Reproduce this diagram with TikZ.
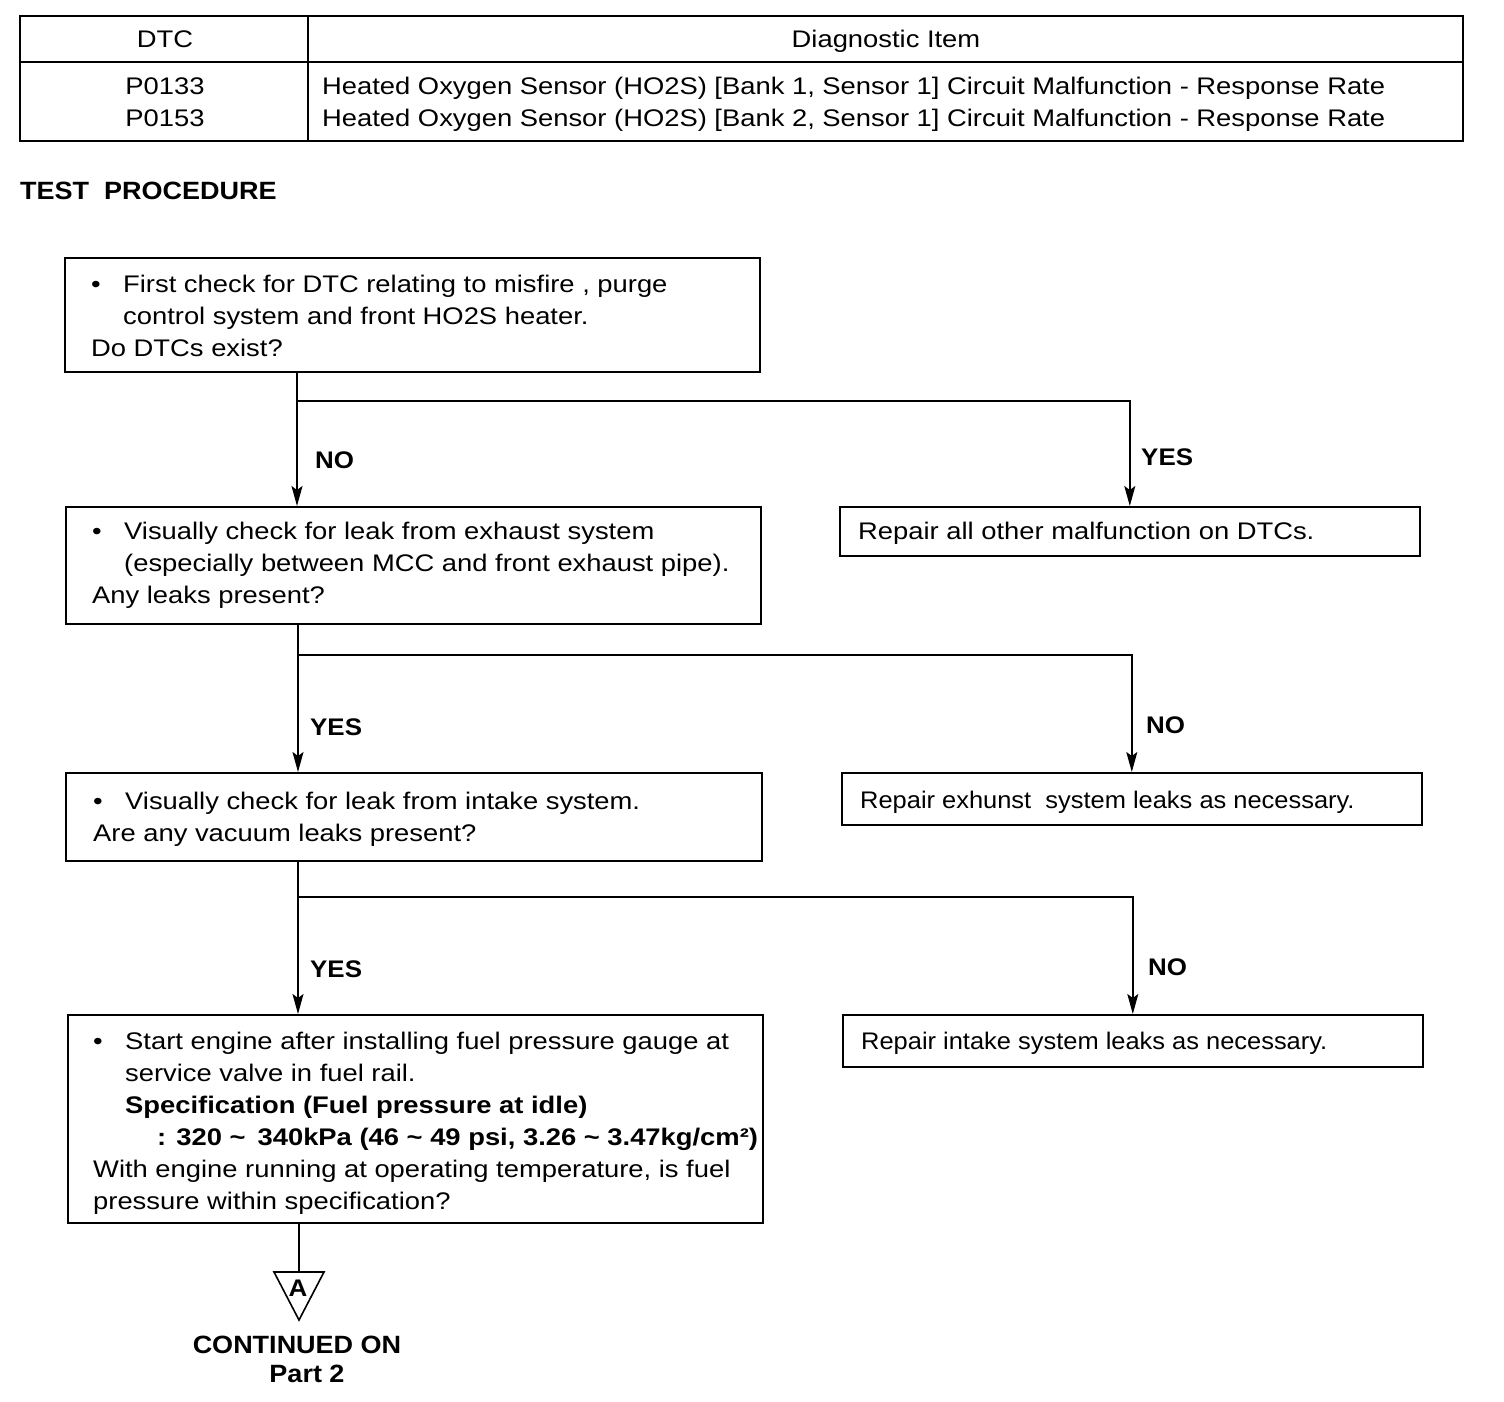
\documentclass[tikz,border=0pt]{standalone}
\usepackage{fontspec}
\setmainfont[FakeStretch=1.14]{Liberation Sans}
\newfontfamily\lblfont[FakeStretch=1.08]{Liberation Sans}
\newfontfamily\narrowfont[FakeStretch=1.06]{Liberation Sans}
\usetikzlibrary{arrows.meta}
\begin{document}
\begin{tikzpicture}[x=1pt,y=-1pt,
  box/.style={draw,line width=1.6pt,anchor=north west,inner sep=0pt},
  txt/.style={anchor=base west,inner sep=0pt,font=\fontsize{24}{28}\selectfont},
  ntxt/.style={txt,font=\narrowfont\fontsize{24}{28}\selectfont},
  ctxt/.style={txt,anchor=base},
  btxt/.style={txt,font=\fontsize{24}{28}\selectfont\bfseries},
  lbl/.style={anchor=base west,inner sep=0pt,font=\lblfont\fontsize{24}{28}\selectfont\bfseries},
  conn/.style={line width=1.6pt},
  arr/.style={conn,-{Stealth[length=20pt,width=11pt,inset=4pt]}}]
\useasboundingbox (0,0) rectangle (1504,1402);
% table
\node[box,minimum width=1443,minimum height=125] (tab) at (19,15) {};
\coordinate (hsep) at (19,62);
\coordinate (vsep) at (308,15);
\draw[conn] (hsep) -- (hsep -| tab.east);
\draw[conn] (vsep) -- (vsep |- tab.south);
\node[ctxt] (h1) at (165,48) {DTC};
\node[ctxt] (h2) at (886,48) {Diagnostic Item};
\node[ctxt] (c1) at (165,95) {P0133};
\node[ctxt] (c2) at (165,127) {P0153};
\node[txt] (d1) at (322,95) {Heated Oxygen Sensor (HO2S) [Bank 1, Sensor 1] Circuit Malfunction - Response Rate};
\node[txt] (d2) at (322,127) {Heated Oxygen Sensor (HO2S) [Bank 2, Sensor 1] Circuit Malfunction - Response Rate};
\node[lbl,font=\lblfont\fontsize{25}{28}\selectfont\bfseries] (tp) at (20,199) {TEST\ \ PROCEDURE};
% boxes
\node[box,minimum width=695,minimum height=114] (b1) at (64,257) {};
\node[box,minimum width=695,minimum height=117] (b2) at (65,506) {};
\node[box,minimum width=696,minimum height=88] (b3) at (65,772) {};
\node[box,minimum width=695,minimum height=208] (b4) at (67,1014) {};
\node[box,minimum width=580,minimum height=49] (r1) at (839,506) {};
\node[box,minimum width=580,minimum height=52] (r2) at (841,772) {};
\node[box,minimum width=580,minimum height=52] (r3) at (842,1014) {};
% box 1 text
\node[txt] (b1a) at (91,292) {\makebox[32pt][l]{\textbullet}First check for DTC relating to misfire , purge};
\node[txt] (b1b) at (123,324) {control system and front HO2S heater.};
\node[txt] (b1c) at (91,356) {Do DTCs exist?};
% box 2 text
\node[txt] (b2a) at (92,539) {\makebox[32pt][l]{\textbullet}Visually check for leak from exhaust system};
\node[txt] (b2b) at (124,571) {(especially between MCC and front exhaust pipe).};
\node[txt] (b2c) at (92,603) {Any leaks present?};
% box 3 text
\node[txt] (b3a) at (93,809) {\makebox[32pt][l]{\textbullet}Visually check for leak from intake system.};
\node[txt] (b3b) at (93,841) {Are any vacuum leaks present?};
% box 4 text
\node[txt] (b4a) at (93,1049) {\makebox[32pt][l]{\textbullet}Start engine after installing fuel pressure gauge at};
\node[txt] (b4b) at (125,1081) {service valve in fuel rail.};
\node[btxt] (b4c) at (125,1113) {Specification (Fuel pressure at idle)};
\node[btxt] (b4d) at (157,1145) {: 320 \textasciitilde\hspace{12pt}340kPa (46 \textasciitilde\ 49 psi, 3.26 \textasciitilde\ 3.47kg/cm²)};
\node[txt] (b4e) at (93,1177) {With engine running at operating temperature, is fuel};
\node[txt] (b4f) at (93,1209) {pressure within specification?};
% right boxes text
\node[txt] (r1t) at (858,539) {Repair all other malfunction on DTCs.};
\node[ntxt] (r2t) at (860,808) {Repair exhunst\ \ system leaks as necessary.};
\node[ntxt] (r3t) at (861,1049) {Repair intake system leaks as necessary.};
% connectors
\coordinate (j1) at (297,401);
\coordinate (j2) at (298,655);
\coordinate (j3) at (298,897);
\draw[arr] (j1 |- b1.south) -- (j1 |- b2.north);
\draw[arr] (j1) -- (j1 -| r1.north) -- (r1.north);
\draw[arr] (j2 |- b2.south) -- (j2 |- b3.north);
\draw[arr] (j2) -- (j2 -| r2.north) -- (r2.north);
\draw[arr] (j3 |- b3.south) -- (j3 |- b4.north);
\draw[arr] (j3) -- (j3 -| r3.north) -- (r3.north);
\node[lbl] (l1) at (315,468) {NO};
\node[lbl] (l2) at (1141,465) {YES};
\node[lbl] (l3) at (310,735) {YES};
\node[lbl] (l4) at (1146,733) {NO};
\node[lbl] (l5) at (310,977) {YES};
\node[lbl] (l6) at (1148,975) {NO};
% off-page connector
\coordinate (tt) at (299,1272);
\draw[conn] (tt |- b4.south) -- (tt);
\draw[conn] (274,1272) -- (324,1272) -- (299,1320) -- cycle;
\node[anchor=base,inner sep=0pt,font=\lblfont\fontsize{24}{24}\selectfont\bfseries] (tA) at (298,1296) {A};
\node[anchor=base,inner sep=0pt,font=\lblfont\fontsize{25}{28}\selectfont\bfseries] (co1) at (297,1353) {CONTINUED ON};
\node[anchor=base,inner sep=0pt,font=\lblfont\fontsize{25}{28}\selectfont\bfseries] (co2) at (307,1382) {Part 2};
\end{tikzpicture}
\end{document}
